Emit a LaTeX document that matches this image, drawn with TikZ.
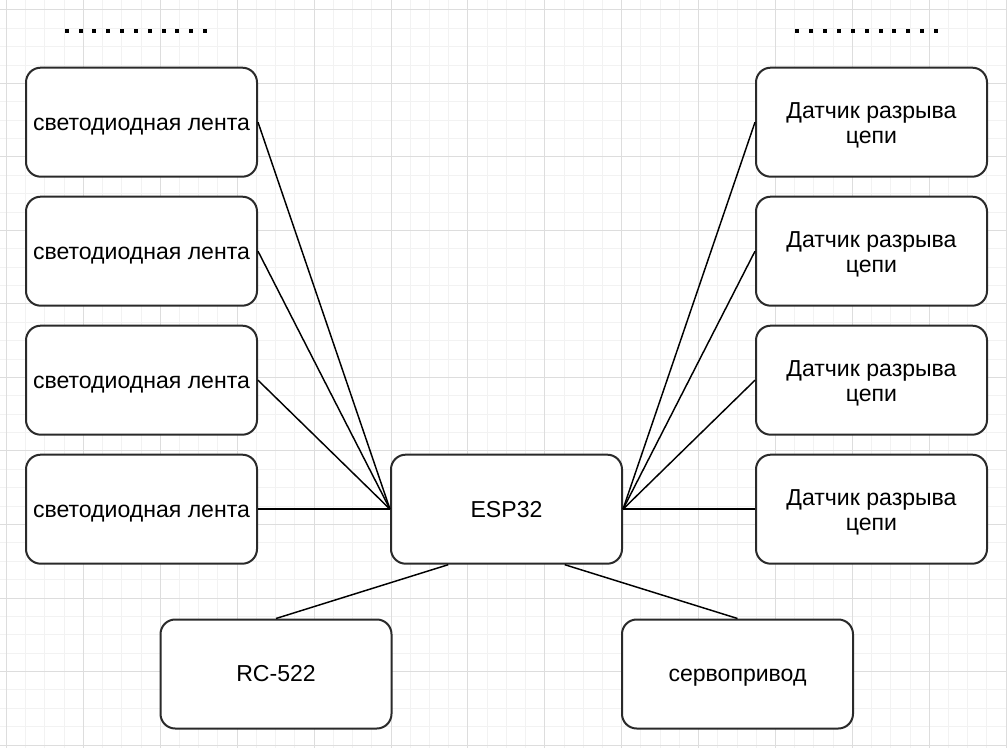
\documentclass[tikz,border=0pt]{standalone}
\usepackage{fontspec}
\setmainfont{Liberation Sans}
\usetikzlibrary{positioning, calc}
\definecolor{gridminor}{HTML}{F2F2F2}
\definecolor{gridmajor}{HTML}{DDDDDD}
\definecolor{boxline}{HTML}{2A2A2A}
\newcommand{\topstrut}{\rule{0pt}{17pt}}

\begin{document}
\begin{tikzpicture}[x=0.75pt, y=-0.75pt,
  unit/.style={draw=boxline, line width=1.5pt, rounded corners=11pt, fill=white,
    minimum width=173.25pt, minimum height=81.75pt, inner sep=0pt,
    align=center, font=\fontsize{17.3}{18.75}\selectfont,
    execute at begin node=\rule{0pt}{16pt},
    execute at end node=\rule[-4.2pt]{0pt}{4.2pt}},
  wire/.style={line width=1.1pt, black}]
  \useasboundingbox (0,0) rectangle (1007,748);
  \fill[white] (0,0) rectangle (1007,748);

  % grid
  \foreach \k in {0,...,52}
    \draw[gridminor, line width=0.75pt] ({6.5+19.225*\k},0) -- ({6.5+19.225*\k},748);
  \foreach \k in {0,...,40}
    \draw[gridminor, line width=0.75pt] (0,{10+18.375*\k}) -- (1007,{10+18.375*\k});
  \foreach \k in {0,...,13}
    \draw[gridmajor, line width=0.75pt] ({6.5+76.9*\k},0) -- ({6.5+76.9*\k},748);
  \foreach \k in {0,...,10}
    \draw[gridmajor, line width=0.75pt] (0,{10+73.5*\k}) -- (1007,{10+73.5*\k});

  % dots
  \foreach \i in {0,...,10} {
    \fill ({64.7+13.83*\i},29.3) rectangle ++(4,4);
    \fill ({795.3+13.87*\i},29.3) rectangle ++(4,4);
  }

  % boxes
  \node[unit] (led1) at (141.5,122.2) {светодиодная лента};
  \node[unit] (led2) at (141.5,251.2) {светодиодная лента};
  \node[unit] (led3) at (141.5,380.2) {светодиодная лента};
  \node[unit] (led4) at (141.5,509.2) {светодиодная лента};

  \node[unit] (sens1) at (871.5,122.2) {\topstrut Датчик разрыва\\цепи};
  \node[unit] (sens2) at (871.5,251.2) {\topstrut Датчик разрыва\\цепи};
  \node[unit] (sens3) at (871.5,380.2) {\topstrut Датчик разрыва\\цепи};
  \node[unit] (sens4) at (871.5,509.2) {\topstrut Датчик разрыва\\цепи};

  \node[unit] (esp) at (506.5,509.2) {ESP32};
  \node[unit] (rfid) at (276,674) {RC-522};
  \node[unit] (servo) at (737.5,674) {сервопривод};

  % wires
  \foreach \n in {1,...,4} {
    \draw[wire] (led\n.east) -- (esp.west);
    \draw[wire] (sens\n.west) -- (esp.east);
  }
  \draw[wire] ($(esp.south west)!0.25!(esp.south east)$) -- (rfid.north);
  \draw[wire] ($(esp.south west)!0.75!(esp.south east)$) -- (servo.north);
\end{tikzpicture}
\end{document}
